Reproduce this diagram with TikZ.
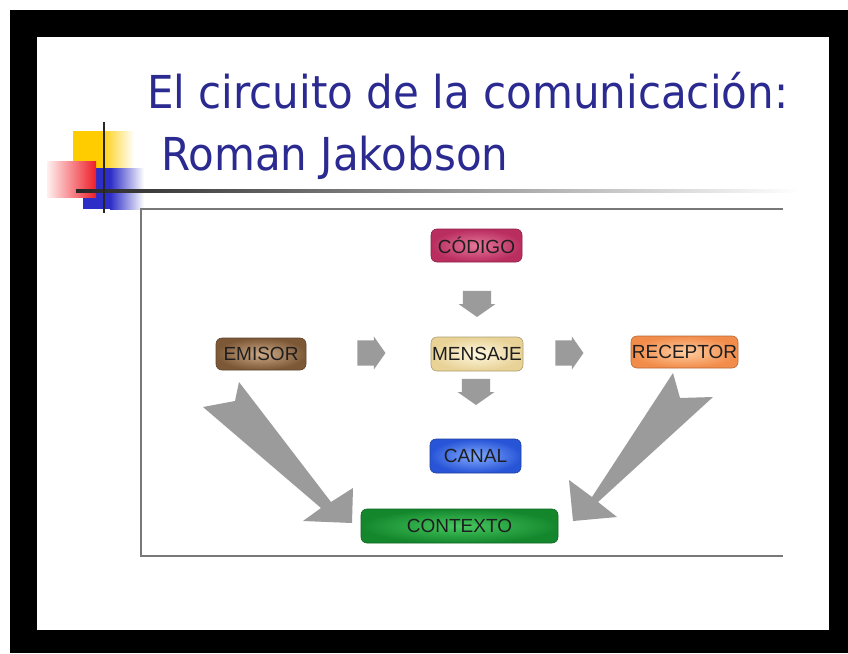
\documentclass[tikz,border=0pt]{standalone}
\usepackage{fontspec}
\setmainfont{Liberation Sans}
\newfontfamily\titlefont{DejaVu Sans}
\usetikzlibrary{shapes.arrows}
\definecolor{titleblue}{RGB}{42,42,145}
\definecolor{labeltxt}{RGB}{30,30,30}
\definecolor{arrgray}{RGB}{155,155,155}
\definecolor{framegray}{RGB}{120,120,120}
\definecolor{yellowc}{RGB}{255,204,0}
\definecolor{bluec}{RGB}{45,45,200}
\definecolor{redc}{RGB}{238,30,40}
\definecolor{codA}{RGB}{230,120,155}\definecolor{codB}{RGB}{185,45,95}
\definecolor{menA}{RGB}{255,248,225}\definecolor{menB}{RGB}{232,210,150}
\definecolor{emiA}{RGB}{205,170,135}\definecolor{emiB}{RGB}{125,88,55}
\definecolor{recA}{RGB}{255,205,160}\definecolor{recB}{RGB}{242,140,75}
\definecolor{canA}{RGB}{130,170,255}\definecolor{canB}{RGB}{40,85,215}
\definecolor{conA}{RGB}{70,200,95}\definecolor{conB}{RGB}{20,135,45}
\begin{document}
\begin{tikzpicture}[x=1pt,y=-1pt,
  box/.style 2 args={rounded corners=6pt, inner sep=0pt, minimum height=33pt,
    inner color=#1, outer color=#2, draw=#2!75!black, line width=0.6pt,
    font=\fontsize{19}{21}\selectfont, text=labeltxt},
  smallarr/.style={single arrow, fill=arrgray, draw=none,
    single arrow head extend=4pt, single arrow tip angle=110},
  rightarr/.style={smallarr, inner xsep=0pt, inner ysep=12.5pt, minimum height=28pt},
  downarr/.style={smallarr, shape border rotate=270, inner ysep=0pt, inner xsep=14pt, minimum height=26pt},
  bigarr/.style={fill=arrgray, draw=none},
  titletext/.style={anchor=base west, inner sep=0pt, text=titleblue, font=\titlefont\fontsize{42}{48}\selectfont}]
\useasboundingbox (0,0) rectangle (848,653);
\fill[white] (0,0) rectangle (848,653);
% black frame
\fill[black] (10,10) rectangle (848,653);
\fill[white] (37,37) rectangle (829,630);
% logo
\fill[yellowc] (73,131) rectangle (100,180);
\shade[left color=yellowc, right color=white] (100,131) rectangle (134,180);
\fill[bluec] (83,168) rectangle (110,209);
\shade[left color=bluec, right color=white] (110,168) rectangle (144,209);
\shade[left color=red!6, right color=redc] (47,161) rectangle (96,197);
\shade[left color=black!85, right color=white] (76,189.5) rectangle (800,192.5);
\draw[line width=2.5pt, black!85] (104,122) -- (104,213);
% title
\node[titletext] (t1) at (147,108) {\scalebox{1}[1.08]{El circuito de la comunicación:}};
\node[titletext] (t2) at (161,170) {\scalebox{1}[1.08]{Roman Jakobson}};
% diagram frame
\draw[framegray, line width=1.2pt] (783,209) -- (141,209) -- (141,556) -- (783,556);
% boxes
\node[box={codA}{codB}, minimum width=91pt] (codigo) at (476.5,245.5) {CÓDIGO};
\node[box={menA}{menB}, minimum width=92pt, minimum height=34pt] (mensaje) at (477,354) {MENSAJE};
\node[box={emiA}{emiB}, minimum width=90pt, minimum height=32pt] (emisor) at (261,354) {EMISOR};
\node[box={recA}{recB}, minimum width=107pt, minimum height=32pt] (receptor) at (684.5,352) {RECEPTOR};
\node[box={canA}{canB}, minimum width=91pt, minimum height=34pt] (canal) at (475.5,456) {CANAL};
\node[box={conA}{conB}, minimum width=197pt, minimum height=34pt] (contexto) at (459.5,526) {CONTEXTO};
% small arrows
\node[downarr] (a1) at (477,299) {};
\node[downarr] (a2) at (476,387) {};
\node[rightarr] (a3) at (367,353) {};
\node[rightarr] (a4) at (565,353) {};
% big arrows
\fill[bigarr] (239,382) -- (331,502) -- (353,488) -- (352,523) -- (303,521) -- (321,508) -- (203,407) -- (235,401) -- cycle;
\fill[bigarr] (673,373) -- (680,398) -- (713,397) -- (598,502) -- (617,517) -- (573,521) -- (569,480) -- (592,497) -- cycle;
\end{tikzpicture}
\end{document}
